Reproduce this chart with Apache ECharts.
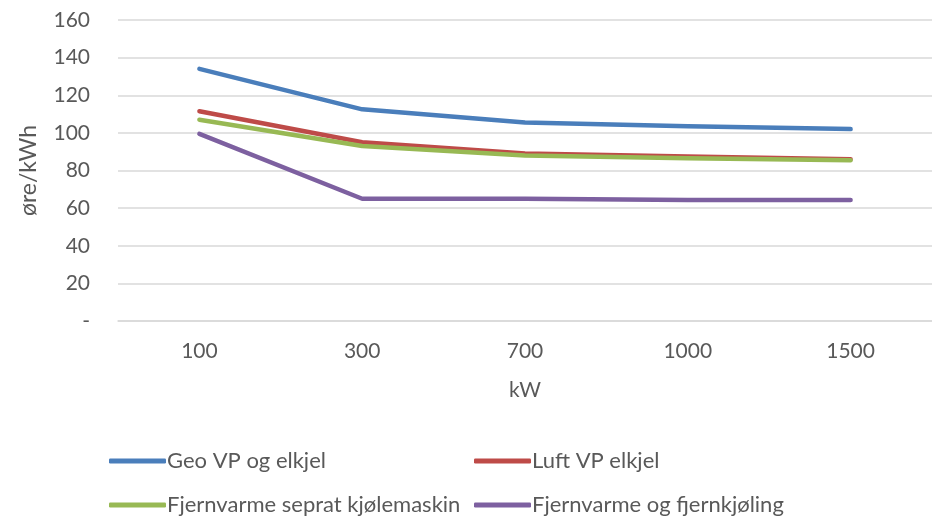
<!DOCTYPE html>
<html>
<head>
<meta charset="utf-8">
<script src="https://cdn.jsdelivr.net/npm/echarts@6/dist/echarts.min.js"></script>
<style>
  html, body { margin: 0; padding: 0; background: #fff; }
  #chart { width: 932px; height: 518px; }
</style>
</head>
<body>
<div id="chart"></div>
<script>
// Effekt (kW) on the category axis
const categories = ['100', '300', '700', '1000', '1500'];

// Energy cost per solution, øre/kWh
const geoVp = [134, 112.5, 105.5, 103.5, 102];
const luftVp = [111.5, 95, 89, 87.5, 86];
const fjernvarmeKjolemaskin = [107, 93, 88, 86.5, 85.5];
const fjernvarmeFjernkjoling = [99.5, 65, 65, 64.3, 64.3];

const seriesNames = [
  'Geo VP og elkjel',
  'Luft VP elkjel',
  'Fjernvarme seprat kjølemaskin',
  'Fjernvarme og fjernkjøling'
];
const seriesValues = [geoVp, luftVp, fjernvarmeKjolemaskin, fjernvarmeFjernkjoling];
const colors = ['#4a7ebb', '#be4b48', '#98b954', '#7d60a0'];

const font = 'Lato, "Open Sans", sans-serif';
const textColor = '#595959';

const chart = echarts.init(document.getElementById('chart'));

// two-by-two legend grid below the plot
const legendPos = [
  { left: 109, top: 450 },
  { left: 474, top: 450 },
  { left: 109, top: 494 },
  { left: 474, top: 494 }
];

chart.setOption({
  animation: false,
  color: colors,
  grid: { left: 118, top: 20, width: 820, height: 301, containLabel: false },
  legend: seriesNames.map((name, i) => ({
    data: [name],
    left: legendPos[i].left,
    top: legendPos[i].top,
    itemWidth: 57,
    itemHeight: 5,
    itemGap: 0,
    padding: 0,
    icon: 'roundRect',
    textStyle: { fontFamily: font, fontSize: 22, color: textColor, padding: [0, 0, 0, -4] }
  })),
  xAxis: {
    type: 'category',
    data: categories,
    boundaryGap: true,
    name: 'kW',
    nameLocation: 'middle',
    nameGap: 59,
    nameTextStyle: { fontFamily: font, fontSize: 21, color: textColor },
    axisLine: { lineStyle: { color: '#d9d9d9', width: 1.5 } },
    axisTick: { show: false },
    axisLabel: { fontFamily: font, fontSize: 21, color: textColor, margin: 20 }
  },
  yAxis: {
    type: 'value',
    min: 0,
    max: 160,
    interval: 20,
    name: 'øre/kWh',
    nameLocation: 'middle',
    nameGap: 78,
    nameRotate: 90,
    nameTextStyle: { fontFamily: font, fontSize: 23, color: textColor },
    axisLine: { show: false },
    axisTick: { show: false },
    axisLabel: {
      fontFamily: font, fontSize: 21, color: textColor, margin: 28,
      formatter: v => (v === 0 ? '-' : String(v))
    },
    splitLine: { lineStyle: { color: '#d9d9d9', width: 1.5 } }
  },
  series: seriesNames.map((name, i) => ({
    name,
    type: 'line',
    data: seriesValues[i],
    showSymbol: false,
    symbol: 'none',
    lineStyle: { width: 4.5, cap: 'round', join: 'round' }
  }))
});
</script>
</body>
</html>
